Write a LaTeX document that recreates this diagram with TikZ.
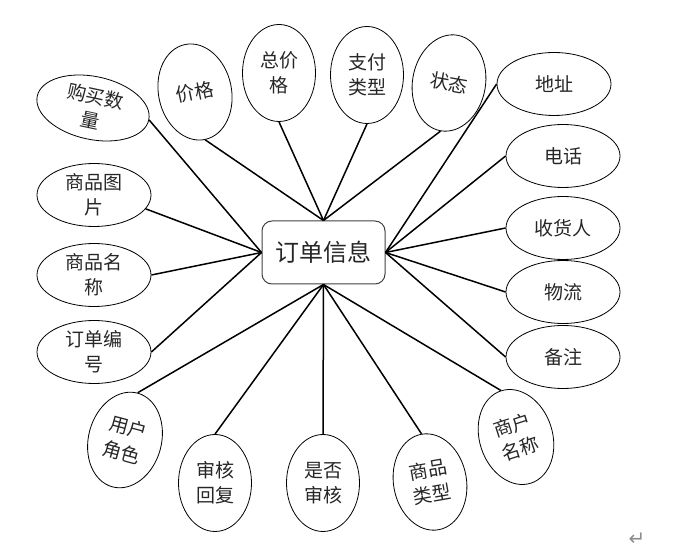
\documentclass[tikz,border=0pt]{standalone}
\usepackage{fontspec}
\newfontfamily\cjk{Noto Sans CJK SC}
\newfontfamily\symfont{DejaVu Sans}
\usetikzlibrary{shapes.geometric}
\tikzset{
  attr/.style={ellipse, draw, line width=0.8pt, inner sep=0pt, align=center,
    font=\cjk\fontsize{19}{25}\selectfont, text=black!85},
  wide/.style={attr, minimum width=114pt, minimum height=63pt},
  tall/.style={attr, minimum width=73pt, minimum height=97pt},
  link/.style={line width=1.5pt},
}
\begin{document}
\begin{tikzpicture}[x=1pt, y=-1pt]
\useasboundingbox (0,0) rectangle (673,553);
\node[draw=black!75, line width=1pt, rounded corners=10pt, minimum width=123pt, minimum height=63pt,
  font=\cjk\fontsize{24}{28}\selectfont, text=black!85] (order) at (323.5,252.5) {订单信息};
% left
\node[wide, rotate=-12] (qty) at (93,108) {购买数\\量};
\node[wide] (pic) at (94,195) {商品图\\片};
\node[wide] (pname) at (94,275) {商品名\\称};
\node[wide] (ono) at (94,352) {订单编\\号};
% top
\node[tall, rotate=12] (price) at (195,92) {价格};
\node[tall] (total) at (279,73) {总价\\格};
\node[tall] (pay) at (367,75) {支付\\类型};
\node[tall, rotate=-10] (state) at (449,83) {状态};
% right
\node[wide] (addr) at (554,84) {地址};
\node[wide] (tel) at (563,156) {电话};
\node[wide] (rcv) at (563,228) {收货人};
\node[wide] (ship) at (563,292) {物流};
\node[wide] (memo) at (563,357) {备注};
% bottom
\node[tall, rotate=-15] (role) at (125,440) {用户\\角色};
\node[tall] (reply) at (215,483) {审核\\回复};
\node[tall] (check) at (323,483) {是否\\审核};
\node[tall, rotate=10] (ptype) at (430,482) {商品\\类型};
\node[tall, rotate=18] (shop) at (516,437) {商户\\名称};
\node[font=\symfont\fontsize{20}{20}\selectfont, text=black!45] (mark) at (637,539) {↵};

\foreach \n in {qty.east,pic.-15,pname.east,ono.east}
  \draw[link] (order.west) -- (\n);
\foreach \n in {price,total,pay,state}
  \draw[link] (order.north) -- (\n.south);
\foreach \n in {addr,tel,rcv,ship,memo}
  \draw[link] (order.east) -- (\n.west);
\foreach \n in {role,reply,check,ptype,shop}
  \draw[link] (order.south) -- (\n.north);
\end{tikzpicture}
\end{document}
